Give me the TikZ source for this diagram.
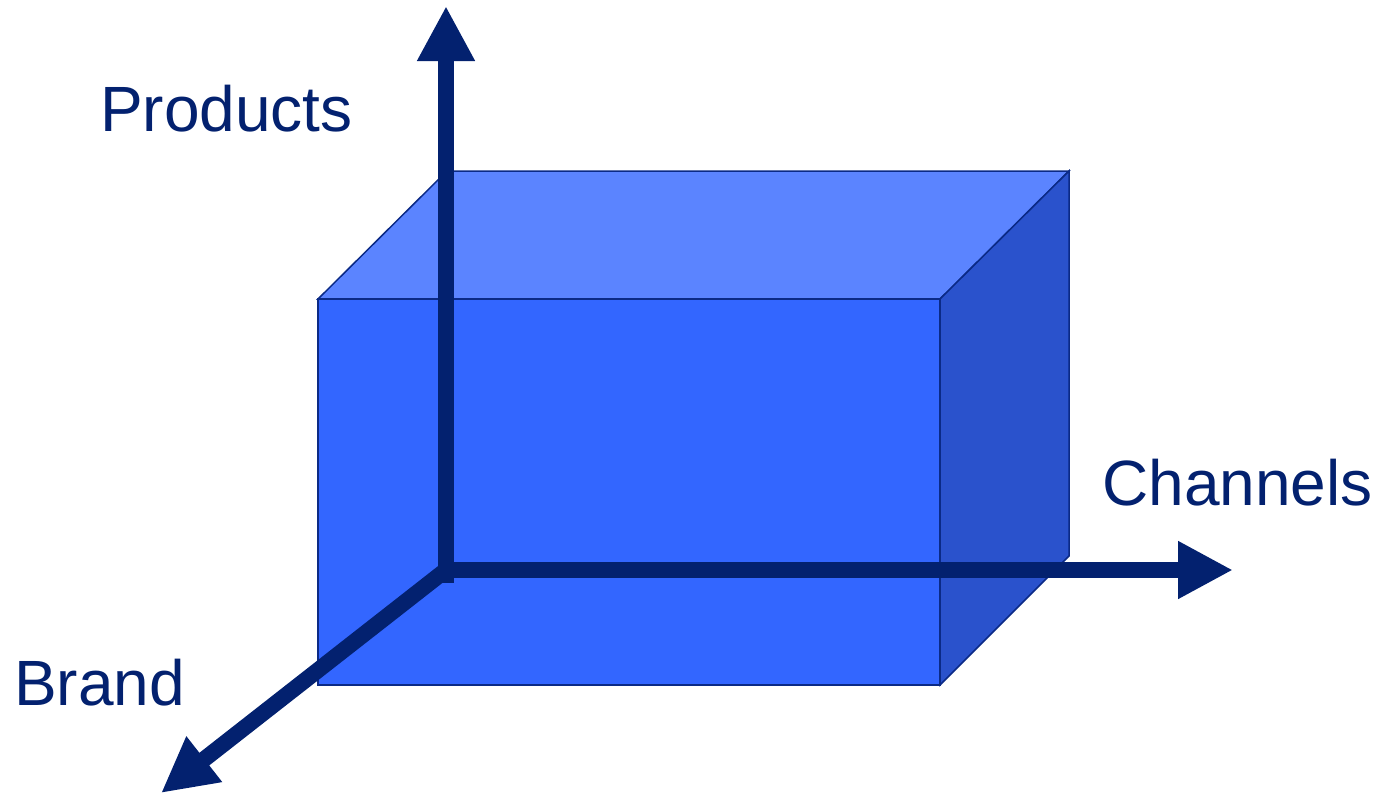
\documentclass[tikz,border=0pt]{standalone}
\usepackage{fontspec}
\setmainfont{Liberation Sans}
\usetikzlibrary{arrows.meta}
\definecolor{navy}{HTML}{03216F}
\definecolor{edge}{HTML}{0B2A86}
\definecolor{frontc}{HTML}{3366FF}
\definecolor{topc}{HTML}{5B84FF}
\definecolor{sidec}{HTML}{2A52CC}
\tikzset{
  face/.style={draw=edge, line width=1.5pt, line join=miter},
  axis/.style={draw=navy, line width=16pt, line cap=butt,
    -{Triangle[length=55pt,width=54pt]}},
  lbl/.style={text=navy, inner sep=0pt, anchor=base west,
    font=\fontsize{64}{70}\selectfont}
}
\begin{document}
\begin{tikzpicture}[x=1pt,y=-1pt]
\useasboundingbox (0,0) rectangle (1378,793);
% box
\coordinate (f1) at (318,299);
\coordinate (f2) at (940,299);
\coordinate (f3) at (940,685);
\coordinate (f4) at (318,685);
\coordinate (b1) at (447,171);
\coordinate (b2) at (1069,171);
\coordinate (b3) at (1069,556);
\fill[topc] (f1) -- (b1) -- (b2) -- (f2) -- cycle;
\draw[face] (f1) -- (b1) -- (b2) -- (f2) -- cycle;
\fill[sidec] (f2) -- (b2) -- (b3) -- (f3) -- cycle;
\draw[face] (f2) -- (b2) -- (b3) -- (f3) -- cycle;
\fill[frontc] (f1) rectangle (f3);
\draw[face] (f1) rectangle (f3);
% axes
\coordinate (o) at (446,570);
\coordinate (ob) at (446,583);
\coordinate (ytip) at (446,6);
\coordinate (xtip) at (1233,570);
\coordinate (ztip) at (161,793);
\draw[axis] (ob) -- (ytip);
\draw[axis] (439,570) -- (xtip);
\draw[axis] (o) -- (ztip);
% labels
\node[lbl] (products) at (100,131) {Products};
\node[lbl] (channels) at (1102,505) {Channels};
\node[lbl] (brand) at (14,705) {Brand};
\end{tikzpicture}
\end{document}
